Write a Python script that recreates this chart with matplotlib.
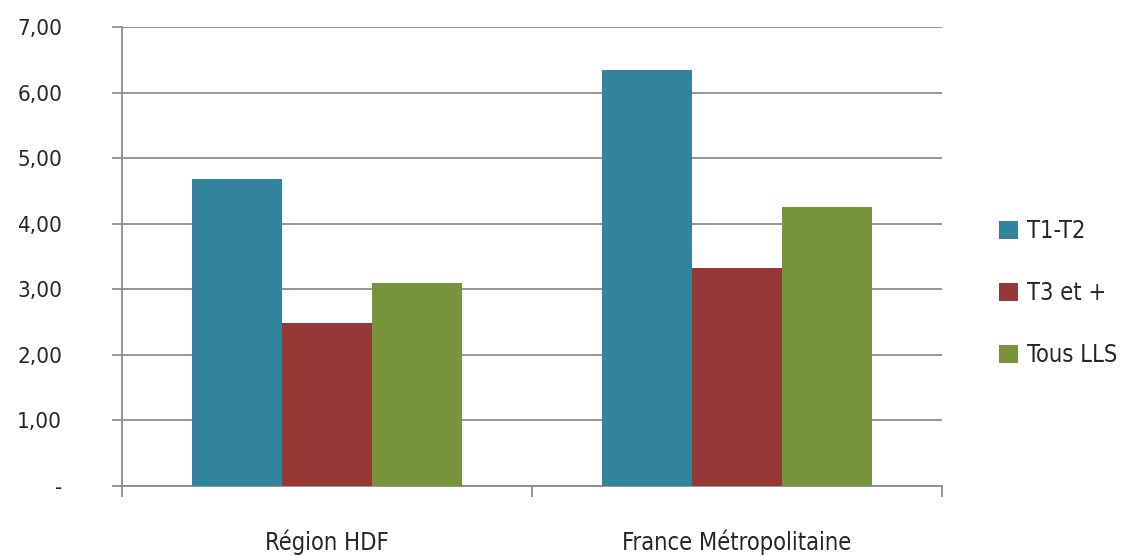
import numpy as np
import matplotlib
matplotlib.use("Agg")
import matplotlib.pyplot as plt
from matplotlib.ticker import FixedLocator

# Ratios per logement type and territory
categories = ["Région HDF", "France Métropolitaine"]
series_names = ["T1-T2", "T3 et +", "Tous LLS"]
t1_t2 = [4.68, 6.34]
t3_plus = [2.49, 3.32]
tous_lls = [3.09, 4.26]
y_ticks = [0, 1, 2, 3, 4, 5, 6, 7]
y_tick_labels = ["-", "1,00", "2,00", "3,00", "4,00", "5,00", "6,00", "7,00"]

colors = ["#31849B", "#953735", "#77933C"]
grid_color = "#8C8C8C"
text_color = "#262626"

plt.rcParams["font.family"] = ["DejaVu Sans"]
plt.rcParams["font.stretch"] = "condensed"

fig = plt.figure(figsize=(11.24, 5.56), dpi=100)
ax = fig.add_axes([0.1085, 0.1259, 0.7295, 0.8255])

x = np.arange(len(categories))
width = 0.22
for i, (vals, name) in enumerate(zip([t1_t2, t3_plus, tous_lls], series_names)):
    ax.bar(x + (i - 1) * width, vals, width, color=colors[i], label=name, zorder=3)

ax.set_xlim(-0.5, 1.5)
ax.set_ylim(0, 7)

ax.set_yticks(y_ticks)
ax.set_yticklabels(y_tick_labels, fontsize=16, color=text_color)
ax.yaxis.grid(True, color=grid_color, linewidth=1.3, zorder=0)
ax.tick_params(axis="y", length=7, width=1.3, color=grid_color, pad=36)

# category labels at centers, tick marks at boundaries
ax.set_xticks(x)
ax.set_xticklabels(categories, fontsize=17, color=text_color)
ax.tick_params(axis="x", which="major", length=0, pad=31)
ax.xaxis.set_minor_locator(FixedLocator([-0.5, 0.5, 1.5]))
ax.tick_params(axis="x", which="minor", length=8, width=1.3, color=grid_color)

for side in ["top", "right"]:
    ax.spines[side].set_visible(False)
for side in ["left", "bottom"]:
    ax.spines[side].set_color(grid_color)
    ax.spines[side].set_linewidth(1.3)

leg = fig.legend(loc="center left", bbox_to_anchor=(0.87, 0.473), frameon=False,
                 fontsize=17, handlelength=0.8, handleheight=0.8, handletextpad=0.4,
                 labelspacing=1.6)
for t in leg.get_texts():
    t.set_color(text_color)

fig.savefig("out.png", dpi=100, facecolor="white")
